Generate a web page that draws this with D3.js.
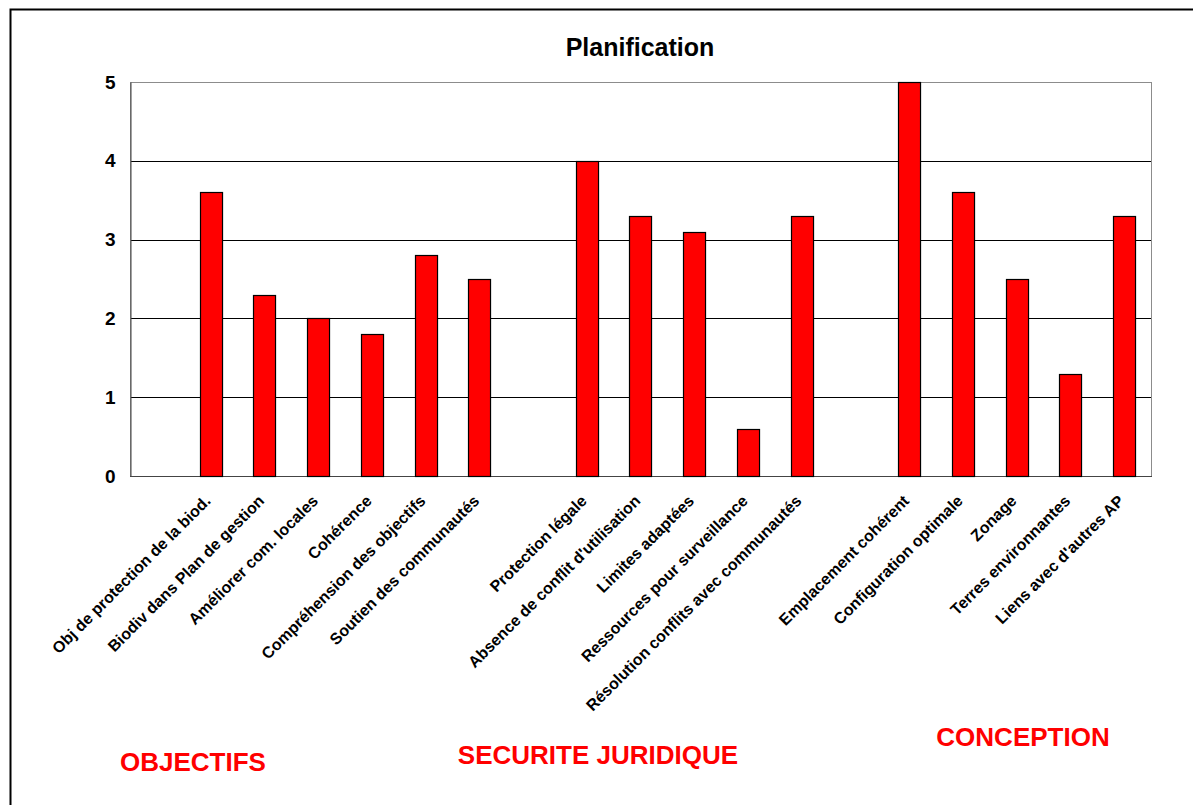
<!DOCTYPE html>
<html>
<head>
<meta charset="utf-8">
<script src="https://cdn.jsdelivr.net/npm/d3@7"></script>
<style>
  body { margin: 0; background: #fff; }
  svg { font-family: "Liberation Sans", Arial, sans-serif; }
</style>
</head>
<body>
<svg width="1193" height="805"></svg>
<script>
// categories, empty strings are the gaps between the groups
var categories = ["", "Obj de protection de la biod.", "Biodiv dans Plan de gestion",
  "Améliorer com. locales", "Cohérence", "Compréhension des objectifs",
  "Soutien des communautés", "", "Protection légale",
  "Absence de conflit d'utilisation", "Limites adaptées",
  "Ressources pour surveillance", "Résolution conflits avec communautés", "",
  "Emplacement cohérent", "Configuration optimale", "Zonage",
  "Terres environnantes", "Liens avec d'autres AP"];

var values = [null, 3.6, 2.3, 2.0, 1.8, 2.8, 2.5, null, 4.0, 3.3, 3.1, 0.6, 3.3,
  null, 5.0, 3.6, 2.5, 1.3, 3.3];

var yTicks = [0, 1, 2, 3, 4, 5];

var groupNames = ["OBJECTIFS", "SECURITE JURIDIQUE", "CONCEPTION"];

var title = "Planification";

var svg = d3.select("svg"),
    margin = {top: 82, left: 130, right: 1151, bottom: 476};

// outer frame
svg.append("rect")
  .attr("x", 10.5)
  .attr("y", 9.5)
  .attr("width", 1300)
  .attr("height", 900)
  .attr("fill", "none")
  .attr("stroke", "#000")
  .attr("stroke-width", 2);

// scales
var x = d3.scaleBand()
  .domain(d3.range(categories.length))
  .range([margin.left, margin.right])
  .paddingInner(0.59)
  .paddingOuter(0.295);

var y = d3.scaleLinear()
  .domain([0, 5])
  .range([margin.bottom, margin.top]);

// gridlines
svg.append("g")
  .selectAll("line")
  .data(yTicks.filter(function(d) { return d > 0 && d < 5; }))
  .enter()
    .append("line")
    .attr("x1", margin.left)
    .attr("x2", margin.right)
    .attr("y1", function(d) { return Math.round(y(d)) + 0.5; })
    .attr("y2", function(d) { return Math.round(y(d)) + 0.5; })
    .attr("stroke", "#000");

// plot border
svg.append("rect")
  .attr("x", margin.left + 0.5)
  .attr("y", margin.top + 0.5)
  .attr("width", margin.right - margin.left)
  .attr("height", margin.bottom - margin.top)
  .attr("fill", "none")
  .attr("stroke", "#8c8c8c");

// y axis
var yAxis = d3.axisLeft(y)
  .tickValues(yTicks)
  .tickSize(0)
  .tickPadding(15)
  .tickFormat(d3.format("d"));

var gy = svg.append("g")
  .attr("transform", "translate(" + (margin.left + 0.5) + ",0)")
  .call(yAxis);

gy.select(".domain").attr("stroke", "#444");
gy.selectAll("text")
  .attr("font-family", "Liberation Sans, Arial, sans-serif")
  .attr("font-size", 19)
  .attr("font-weight", "bold")
  .attr("fill", "#000");

// bottom axis line
svg.append("line")
  .attr("x1", margin.left)
  .attr("x2", margin.right + 1)
  .attr("y1", margin.bottom + 0.5)
  .attr("y2", margin.bottom + 0.5)
  .attr("stroke", "#444");

// bars
svg.append("g")
  .selectAll("rect")
  .data(values.map(function(v, i) { return {i: i, v: v}; })
    .filter(function(d) { return d.v != null; }))
  .enter()
    .append("rect")
    .attr("x", function(d) { return Math.round(x(d.i)) + 0.5; })
    .attr("y", function(d) { return Math.round(y(d.v)) + 0.5; })
    .attr("width", x.bandwidth())
    .attr("height", function(d) { return Math.round(y(0)) - Math.round(y(d.v)); })
    .attr("fill", "#ff0000")
    .attr("stroke", "#000")
    .attr("stroke-width", 1.2);

// category labels, rotated
svg.append("g")
  .selectAll("text")
  .data(categories.map(function(c, i) { return {i: i, c: c}; })
    .filter(function(d) { return d.c != ""; }))
  .enter()
    .append("text")
    .attr("transform", function(d) {
      return "translate(" + (x(d.i) + x.bandwidth() / 2 - 7) + "," + 494 + ") rotate(-45)";
    })
    .attr("text-anchor", "end")
    .attr("dy", "0.7em")
    .attr("font-size", 16)
    .attr("font-weight", "bold")
    .attr("fill", "#000")
    .text(function(d) { return d.c; });

// title
svg.append("text")
  .attr("x", 640)
  .attr("y", 56)
  .attr("text-anchor", "middle")
  .attr("font-size", 25)
  .attr("font-weight", "bold")
  .attr("fill", "#000")
  .text(title);

// group names
var groupPos = [[193, 771], [598, 764], [1023, 746]];
svg.append("g")
  .selectAll("text")
  .data(groupNames)
  .enter()
    .append("text")
    .attr("x", function(d, i) { return groupPos[i][0]; })
    .attr("y", function(d, i) { return groupPos[i][1]; })
    .attr("text-anchor", "middle")
    .attr("font-size", 26)
    .attr("font-weight", "bold")
    .attr("fill", "#ff0000")
    .text(function(d) { return d; });
</script>
</body>
</html>
